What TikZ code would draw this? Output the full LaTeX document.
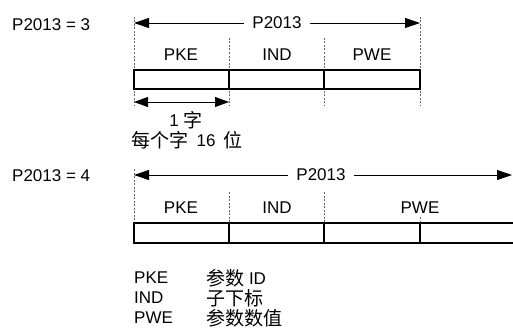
\documentclass[tikz,border=0pt]{standalone}
\usepackage{fontspec}
\setmainfont{Liberation Sans}
\newfontfamily\cjk[Scale=1.12]{Noto Sans CJK SC}
\newcommand\zhtxt[1]{\raisebox{-1.2pt}{\cjk #1}}
\usetikzlibrary{arrows.meta}
\begin{document}
\begin{tikzpicture}[x=1pt,y=-1pt,
  every node/.style={font=\fontsize{17}{20}\selectfont, inner sep=0pt},
  cell/.style={draw=black, line width=2pt},
  guide/.style={draw=black!60, line width=0.8pt, dash pattern=on 2pt off 1.5pt},
  dim/.style={line width=0.9pt, -{Triangle[length=15pt,width=10pt]}},
  dimboth/.style={line width=0.9pt, {Triangle[length=14pt,width=10pt]}-{Triangle[length=14pt,width=10pt]}},
  gap/.style={inner xsep=8pt}]
\useasboundingbox (0,0) rectangle (513,329);
% ---------- P2013 = 3 ----------
\node[anchor=west] (c3) at (12,25) {P2013 = 3};
\draw[guide] (134,17) -- (134,105);
\draw[guide] (229,38) -- (229,105);
\draw[guide] (324,38) -- (324,105);
\draw[guide] (420,17) -- (420,105);
\draw[cell] (134,70) rectangle (420,89);
\draw[cell] (229,70) -- (229,89);
\draw[cell] (324,70) -- (324,89);
\node (pke1) at (181,55) {PKE};
\node (ind1) at (277,55) {IND};
\node (pwe1) at (372,55) {PWE};
\coordinate (l1) at (134,23);
\coordinate (r1) at (420,23);
\node[gap] (w1) at (277,23) {P2013};
\draw[dim] (w1) -- (l1);
\draw[dim] (w1) -- (r1);
\coordinate (d0) at (134,102);
\coordinate (d1) at (229,102);
\draw[dimboth] (d0) -- (d1);
\node (one) at (186,120) {1 \zhtxt{字}};
\node (per) at (187,140) {\zhtxt{每个字}\, 16\, \zhtxt{位}};
% ---------- P2013 = 4 ----------
\node[anchor=west] (c4) at (12,176) {P2013 = 4};
\draw[guide] (134,169) -- (134,223);
\draw[guide] (229,192) -- (229,223);
\draw[guide] (324,192) -- (324,223);
\draw[guide] (420,217) -- (420,223);
\draw[cell] (516,223) -- (134,223) -- (134,243) -- (516,243);
\draw[cell] (229,223) -- (229,243);
\draw[cell] (324,223) -- (324,243);
\draw[cell] (420,223) -- (420,243);
\node (pke2) at (181,208) {PKE};
\node (ind2) at (277,208) {IND};
\node (pwe2) at (420,208) {PWE};
\coordinate (l2) at (134,175);
\coordinate (r2) at (512,175);
\node[gap] (w2) at (321,175) {P2013};
\draw[dim] (w2) -- (l2);
\draw[dim] (w2) -- (r2);
% ---------- legend ----------
\node[anchor=west] (k1) at (134,278) {PKE};
\node[anchor=west] (k2) at (134,298) {IND};
\node[anchor=west] (k3) at (134,318) {PWE};
\node[anchor=west] (v1) at (206,278) {\zhtxt{参数} ID};
\node[anchor=west] (v2) at (206,298) {\zhtxt{子下标}};
\node[anchor=west] (v3) at (206,318) {\zhtxt{参数数值}};
\end{tikzpicture}
\end{document}
